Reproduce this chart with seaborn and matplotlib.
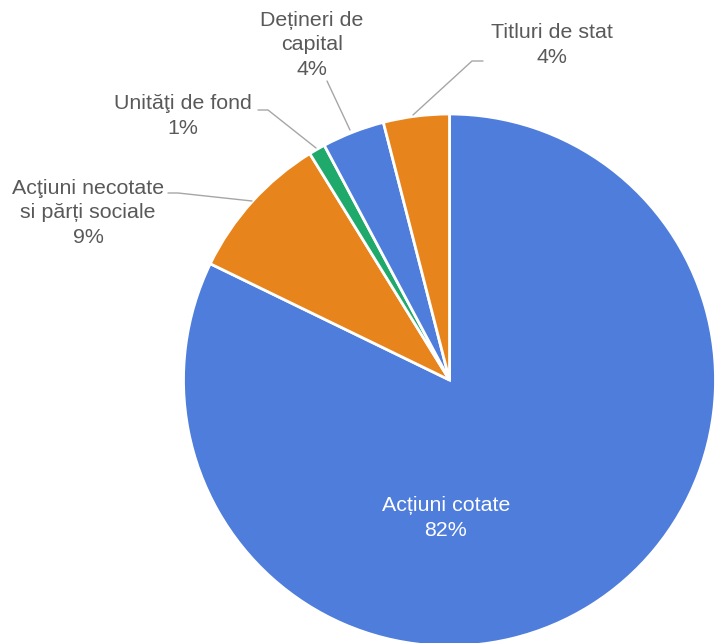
import numpy as np
import matplotlib
matplotlib.use("Agg")
import matplotlib.pyplot as plt
import seaborn as sns

# date
categorii = ["Acțiuni cotate", "Acţiuni necotate\nsi părți sociale", "Unităţi de fond",
             "Dețineri de\ncapital", "Titluri de stat"]
valori = [82.2, 9.0, 1.0, 3.8, 4.0]
culori = ["#4e7ddc", "#e8841c", "#1fa96b", "#4e7ddc", "#e8841c"]

sns.set_theme(style="white")
plt.rcParams['font.family'] = ['Liberation Sans', 'DejaVu Sans']

W, H = 715, 643
cx, cy, r = 449.5, 380, 266

fig = plt.figure(figsize=(W / 100, H / 100), dpi=100)
ax = fig.add_axes([0, 0, 1, 1])

wedges, _ = ax.pie(valori, colors=culori, startangle=90, counterclock=False,
                   wedgeprops=dict(edgecolor='white', linewidth=2))

# pie isi seteaza singur limitele, le refacem dupa
ax.set_xlim(-cx / r, (W - cx) / r)
ax.set_ylim(-(H - cy) / r, cy / r)
ax.set_aspect('equal')
ax.axis('off')


def px(x, y):
    # pixeli imagine -> coordonate axe
    return ((x - cx) / r, (cy - y) / r)


gri = "#595959"
fs = 15.4
ls = 1.37

# eticheta principala, in interior
ax.text(*px(446, 518), f"{categorii[0]}\n{round(valori[0])}%", ha='center', va='center',
        color='white', fontsize=fs, linespacing=ls)

# etichete exterioare: (centru text, puncte linie)
etichete = [
    (1, (88, 213), [(168, 193), (178, 193), (252, 201)]),
    (2, (183, 116), [(258, 110), (268, 110), (316, 148)]),
    (3, (312, 45), [(327, 81), (350, 130)]),
    (4, (552, 45), [(483, 61), (472, 61), (413, 115)]),
]
for i, (tx, ty), linie in etichete:
    ax.text(*px(tx, ty), f"{categorii[i]}\n{round(valori[i])}%", ha='center', va='center',
            color=gri, fontsize=fs, linespacing=ls)
    pts = np.array([px(x, y) for x, y in linie])
    ax.plot(pts[:, 0], pts[:, 1], color="#a6a6a6", linewidth=1)

fig.savefig("out.png", dpi=100)
